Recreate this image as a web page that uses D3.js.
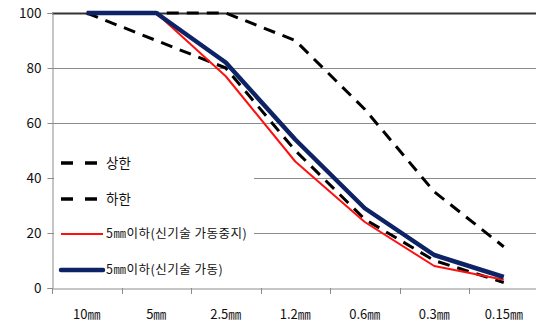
<!DOCTYPE html>
<html><head><meta charset="utf-8">
<script src="https://cdn.jsdelivr.net/npm/d3@7/dist/d3.min.js"></script>
<style>
html,body{margin:0;padding:0;background:#fff;}
svg{display:block;font-family:"Noto Sans CJK KR","DejaVu Sans",sans-serif;}
</style></head><body>
<svg id="chart" width="536" height="325"></svg>
<script>
const categories = ["10㎜","5㎜","2.5㎜","1.2㎜","0.6㎜","0.3㎜","0.15㎜"];
const upper = [100,100,100,90,65,35,15];
const lower = [100,90,80,50,25,10,2];
const stopped = [100,100,77,46,24,8,3];
const running = [100,100,82,54,29,12,4];
const seriesNames = ["상한","하한","5㎜이하(신기술 가동중지)","5㎜이하(신기술 가동)"];
const yTicks = [0,20,40,60,80,100];

(function(){
const svg = d3.select("#chart");
const pLeft = 52, pRight = 538.5, pTop = 13, pBottom = 288;
const x = d3.scaleBand().domain(categories).range([pLeft, pRight]);
const y = d3.scaleLinear().domain([0,100]).range([pBottom, pTop]);

// gridlines
svg.append("g").selectAll("line").data(yTicks.filter(d=>d>0)).join("line")
  .attr("x1", pLeft).attr("x2", 536)
  .attr("y1", d=>y(d)+0.5).attr("y2", d=>y(d)+0.5)
  .attr("stroke", d=>d===100?"#333":"#8c8c8c")
  .attr("stroke-width", d=>d===100?2:1);

// y axis
const yAxis = svg.append("g").attr("transform",`translate(${pLeft+0.5},0)`)
  .call(d3.axisLeft(y).tickValues(yTicks).tickSize(5).tickPadding(6));
yAxis.select(".domain").attr("stroke","#8c8c8c");
yAxis.selectAll(".tick line").attr("stroke","#8c8c8c");
yAxis.selectAll(".tick text").attr("font-size",13.5).attr("fill","#111")
  .attr("font-family","'Noto Sans CJK KR',sans-serif");

// x axis
const xAxis = svg.append("g").attr("transform",`translate(0,${pBottom+0.5})`)
  .call(d3.axisBottom(x).tickSize(0).tickPadding(21));
xAxis.select(".domain").attr("stroke","#8c8c8c");
xAxis.selectAll(".tick text").attr("font-size",13).attr("fill","#111")
  .attr("font-family","'Noto Sans CJK KR',sans-serif");
svg.append("g").selectAll("line").data(d3.range(categories.length+1)).join("line")
  .attr("x1", i=>Math.round(pLeft + i*x.step())+0.5).attr("x2", i=>Math.round(pLeft + i*x.step())+0.5)
  .attr("y1", pBottom).attr("y2", pBottom+6).attr("stroke","#8c8c8c");

// legend background
svg.append("rect").attr("x",54).attr("y",142).attr("width",200).attr("height",142).attr("fill","#fff");

const line = d3.line().x((d,i)=>x(categories[i])+x.bandwidth()/2).y(d=>y(d));
const styles = [
  {data:upper, color:"#000", w:3, dash:"12,8"},
  {data:lower, color:"#000", w:3, dash:"12,8"},
  {data:stopped, color:"#ff1010", w:2, dash:null},
  {data:running, color:"#0e2366", w:4.5, dash:null}
];
styles.forEach(s=>{
  svg.append("path").datum(s.data).attr("d",line).attr("fill","none")
    .attr("stroke",s.color).attr("stroke-width",s.w)
    .attr("stroke-dasharray",s.dash).attr("stroke-linejoin","round");
});

// legend
const legY = [163, 199, 234, 270];
const lg = svg.append("g");
styles.forEach((s,i)=>{
  lg.append("line").attr("x1",61).attr("x2",103).attr("y1",legY[i]).attr("y2",legY[i])
    .attr("stroke",s.color).attr("stroke-width",s.w===3?3.5:s.w)
    .attr("stroke-dasharray", s.dash? "12,12":null).attr("stroke-linecap", s.w>3?"round":"butt");
  lg.append("text").attr("x",106).attr("y",legY[i]).attr("dy","0.35em")
    .attr("font-size", i<2?13.5:12.5).attr("letter-spacing", i<2?0:0.5)
    .attr("fill","#111").text(seriesNames[i]);
});
})();
</script>
</body></html>
